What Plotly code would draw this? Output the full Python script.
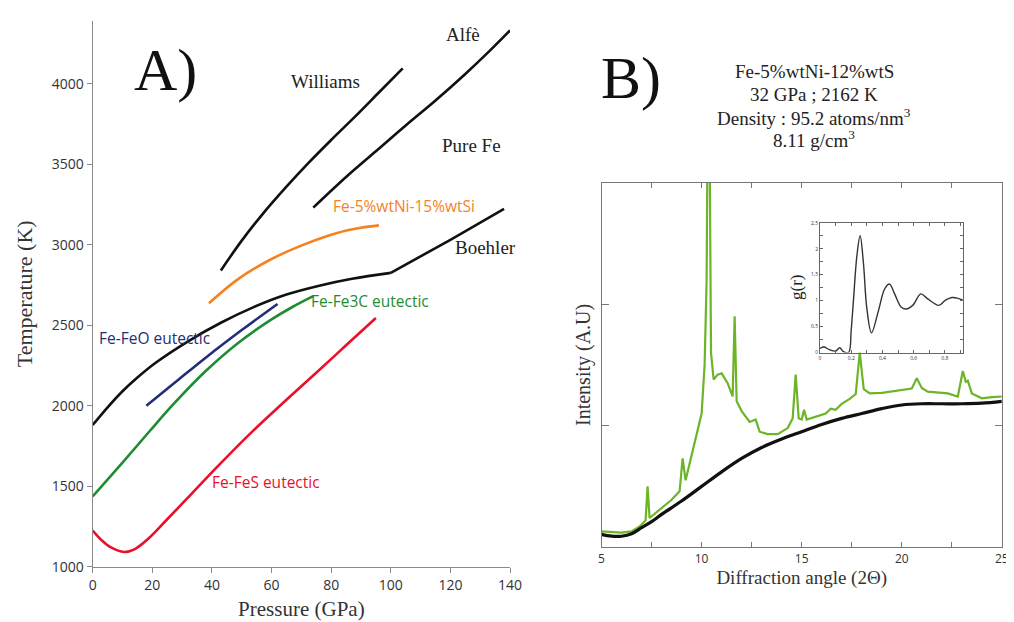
import plotly.graph_objects as go

W, H = 1014, 622

# ---------------- Panel A data ----------------
boehler_p = [0, 5, 10, 15, 21, 32, 43, 54, 65, 76, 87, 100, 120, 138]
boehler_t = [1880, 1990, 2090, 2175, 2265, 2400, 2515, 2612, 2690, 2745, 2788, 2825, 3030, 3222]
boehler_kink = 11  # index of the 100 GPa corner

williams_p = [43, 50, 57, 65, 72, 80, 88, 96, 104]
williams_t = [2840, 3025, 3190, 3360, 3500, 3650, 3795, 3945, 4095]

alfe_p = [74, 85, 95, 105, 115, 125, 133, 140]
alfe_t = [3230, 3420, 3580, 3740, 3895, 4060, 4200, 4330]

fenisi_p = [39, 49, 60, 71, 82, 90, 96]
fenisi_t = [2636, 2789, 2911, 3002, 3073, 3105, 3120]

fe3c_p = [0, 10, 19, 27, 38, 49, 60, 67, 74]
fe3c_t = [1437, 1647, 1840, 2008, 2217, 2393, 2536, 2613, 2680]

feo_p = [18, 28, 38, 50, 62]
feo_t = [2000, 2150, 2300, 2470, 2632]

fes_p = [0, 3, 6, 10.5, 14, 19, 25, 33, 42, 53, 64, 75, 85, 95]
fes_t = [1225, 1165, 1122, 1092, 1108, 1180, 1295, 1450, 1625, 1830, 2020, 2205, 2375, 2545]

a_xticks = [0, 20, 40, 60, 80, 100, 120, 140]
a_yticks = [1000, 1500, 2000, 2500, 3000, 3500, 4000]

# ---------------- Panel B data ----------------
bg_angle = [5, 5.5, 6, 6.5, 7, 7.5, 8, 9, 10, 11, 12, 13, 14, 15, 16, 17, 18, 19, 20, 21, 22, 23, 24, 25]
bg_int = [0.105, 0.09, 0.09, 0.11, 0.16, 0.21, 0.27, 0.38, 0.50, 0.62, 0.73, 0.82, 0.89, 0.95,
          1.01, 1.06, 1.10, 1.14, 1.17, 1.18, 1.18, 1.18, 1.185, 1.20]

xrd_angle = [5.0, 5.5, 6.0, 6.5, 6.9, 7.2, 7.3, 7.4, 8.0, 8.5, 8.9, 9.05, 9.2, 9.5, 9.8, 10.0,
             10.15, 10.2, 10.25, 10.3, 10.4, 10.47, 10.6, 10.8, 11.0, 11.3, 11.55, 11.65, 11.75,
             12.0, 12.4, 12.7, 12.9, 13.3, 13.8, 14.3, 14.55, 14.7, 14.85, 15.0, 15.12, 15.25,
             15.8, 16.2, 16.45, 16.7, 17.0, 17.4, 17.7, 17.9, 18.1, 18.4, 19.0, 19.5, 20.0, 20.5,
             20.75, 21.0, 21.3, 22.0, 22.3, 22.8, 23.05, 23.2, 23.3, 23.5, 24.0, 24.5, 25.0]
xrd_int = [0.13, 0.125, 0.12, 0.13, 0.17, 0.22, 0.50, 0.24, 0.32, 0.39, 0.46, 0.73, 0.55, 0.75,
           0.97, 1.10, 1.5, 1.85, 2.2, 3.5, 3.3, 1.6, 1.38, 1.42, 1.43, 1.35, 1.24, 1.90, 1.20,
           1.12, 1.03, 1.05, 0.95, 0.93, 0.93, 0.98, 1.06, 1.42, 1.06, 1.05, 1.13, 1.05,
           1.08, 1.10, 1.14, 1.13, 1.18, 1.22, 1.26, 1.60, 1.30, 1.265, 1.27, 1.28, 1.29, 1.305,
           1.39, 1.31, 1.28, 1.27, 1.265, 1.24, 1.45, 1.36, 1.37, 1.265, 1.225, 1.235, 1.24]

b_xticks = [5, 10, 15, 20, 25]

# ---------------- Inset g(r) data ----------------
gr_r = [0.0, 0.025, 0.057, 0.10, 0.126, 0.15, 0.183, 0.20, 0.215, 0.236, 0.257, 0.278, 0.30,
        0.33, 0.373, 0.415, 0.446, 0.478, 0.52, 0.552, 0.594, 0.646, 0.688, 0.762, 0.804,
        0.846, 0.88, 0.916]
gr_g = [0.08, 0.107, 0.06, 0.03, 0.094, 0.02, 0.0, 0.45, 1.04, 1.86, 2.25, 1.73, 0.85,
        0.38, 0.79, 1.23, 1.32, 1.13, 0.88, 0.84, 0.91, 1.13, 1.04, 0.91, 1.01,
        1.06, 1.05, 1.01]
gr_xticks = [0, 0.2, 0.4, 0.6, 0.8]
gr_xlabels = ["0", "0,2", "0,4", "0,6", "0,8"]
gr_yticks = [0, 0.5, 1, 1.5, 2, 2.5]
gr_ylabels = ["0", "0,5", "1", "1,5", "2", "2,5"]


def px_x(p):
    return p / W


def px_y(p):
    return 1 - p / H


SERIF = "Liberation Serif, Times New Roman, serif"
SANS = "Open Sans, Noto Sans, sans-serif"

BLACK = "#111111"
ORANGE = "#f5821f"
GREEN_A = "#1e8c32"
BLUE = "#232d78"
RED = "#e8102a"
GREEN_B = "#6cb428"

fig = go.Figure()


def curve(px, py, color, name, smooth=True, width=2.6, axis=("x", "y")):
    line = dict(color=color, width=width)
    if smooth:
        line.update(shape="spline", smoothing=1.0)
    fig.add_trace(go.Scatter(x=px, y=py, mode="lines", line=line,
                             xaxis=axis[0], yaxis=axis[1], name=name))


# Panel A traces
curve(boehler_p[:boehler_kink + 1], boehler_t[:boehler_kink + 1], BLACK, "Boehler")
curve(boehler_p[boehler_kink:], boehler_t[boehler_kink:], BLACK, "Boehler", smooth=False)
curve(williams_p, williams_t, BLACK, "Williams")
curve(alfe_p, alfe_t, BLACK, "Alfè")
curve(fenisi_p, fenisi_t, ORANGE, "Fe-5%wtNi-15%wtSi")
curve(fe3c_p, fe3c_t, GREEN_A, "Fe-Fe3C eutectic")
curve(feo_p, feo_t, BLUE, "Fe-FeO eutectic")
curve(fes_p, fes_t, RED, "Fe-FeS eutectic")

# Panel B traces
curve(xrd_angle, xrd_int, GREEN_B, "XRD", smooth=False, width=2.2, axis=("x2", "y2"))
curve(bg_angle, bg_int, BLACK, "background", width=3.2, axis=("x2", "y2"))

# Inset
curve(gr_r, gr_g, "#333333", "g(r)", width=1.4, axis=("x3", "y3"))

axA_common = dict(showgrid=False, zeroline=False, showline=True, linecolor="#8a8a8a", linewidth=1.3,
                  ticks="outside", ticklen=5, tickcolor="#8a8a8a",
                  tickfont=dict(family=SANS, size=14, color="#333333"))

fig.update_layout(
    width=W, height=H,
    margin=dict(l=0, r=0, t=0, b=0),
    paper_bgcolor="white", plot_bgcolor="rgba(0,0,0,0)",
    showlegend=False,
    xaxis=dict(domain=[px_x(82), px_x(506)], range=[0, 140], anchor="y",
               tickvals=a_xticks, **axA_common,
               title=dict(text="Pressure (GPa)", font=dict(family=SERIF, size=21, color="#333333"), standoff=8)),
    yaxis=dict(domain=[px_y(566.7), px_y(10)], range=[1000, 4390], anchor="x",
               tickvals=a_yticks, **axA_common,
               title=dict(text="Temperature (K)", font=dict(family=SERIF, size=22, color="#333333"), standoff=13)),
    xaxis2=dict(domain=[px_x(599), px_x(1005.7)], range=[5, 25], anchor="y2",
                tickvals=b_xticks, showgrid=False, zeroline=False, showline=True, mirror="ticks",
                linecolor="#777777", linewidth=1, ticks="inside", ticklen=5, tickcolor="#777777",
                minor=dict(dtick=2.5, tick0=5, ticks="inside", ticklen=5, tickcolor="#777777"),
                tickfont=dict(family=SANS, size=12, color="#333333"),
                title=dict(text="Diffraction angle (2Θ)", font=dict(family=SERIF, size=19, color="#333333"), standoff=2)),
    yaxis2=dict(domain=[px_y(546.7), px_y(175)], range=[0, 3], anchor="x2",
                tickvals=[1, 2], showticklabels=False, showgrid=False, zeroline=False,
                showline=True, mirror="ticks", linecolor="#777777", linewidth=1,
                ticks="inside", ticklen=7, tickcolor="#777777",
                title=dict(text="Intensity (A.U)", font=dict(family=SERIF, size=20, color="#333333"), standoff=4)),
    xaxis3=dict(domain=[px_x(821), px_x(966)], range=[0, 0.915], anchor="y3",
                tickvals=gr_xticks, ticktext=gr_xlabels, showgrid=False, zeroline=False,
                showline=True, mirror="ticks", linecolor="#666666", linewidth=1,
                ticks="inside", ticklen=3, tickcolor="#666666",
                minor=dict(dtick=0.1, tick0=0, ticks="inside", ticklen=3, tickcolor="#666666"),
                tickfont=dict(family=SANS, size=5, color="#333333")),
    yaxis3=dict(domain=[px_y(348.3), px_y(216)], range=[0, 2.5], anchor="x3",
                tickvals=gr_yticks, ticktext=gr_ylabels, showgrid=False, zeroline=False,
                showline=True, mirror="ticks", linecolor="#666666", linewidth=1,
                ticks="inside", ticklen=3, tickcolor="#666666",
                minor=dict(dtick=0.25, tick0=0, ticks="inside", ticklen=3, tickcolor="#666666"),
                tickfont=dict(family=SANS, size=5, color="#333333")),
)


def label(text, x, y, font, size, color, **kw):
    fig.add_annotation(text=text, x=px_x(x), y=px_y(y), xref="paper", yref="paper",
                       showarrow=False, xanchor="center", yanchor="middle",
                       font=dict(family=font, size=size, color=color), **kw)


# Panel A labels
label("A)", 156, 60, SERIF, 60, "#111111")
label("Williams", 319, 72, SERIF, 19, "#222222")
label("Alfè", 458, 24, SERIF, 19, "#222222")
label("Pure Fe", 467, 137, SERIF, 19, "#222222")
label("Boehler", 481, 241, SERIF, 19, "#222222")
label("Fe-5%wtNi-15%wtSi", 398, 199, SANS, 15.5, ORANGE)
label("Fe-Fe3C eutectic", 364, 296, SANS, 15.5, GREEN_A)
label("Fe-FeO eutectic", 145, 333, SANS, 15.5, BLUE)
label("Fe-FeS eutectic", 258, 480, SANS, 15.5, RED)

# Panel B labels
label("B)", 629, 68, SERIF, 60, "#111111")
label("Fe-5%wtNi-12%wtS", 815, 62, SERIF, 19, "#222222")
label("32 GPa ; 2162 K", 815, 85, SERIF, 19, "#222222")
label("Density : 95.2 atoms/nm<sup>3</sup>", 815, 108, SERIF, 19, "#222222")
label("8.11 g/cm<sup>3</sup>", 815, 131, SERIF, 19, "#222222")
label("g(r)", 797, 282, SERIF, 17, "#222222", textangle=-90)

fig.write_html("out.html")
